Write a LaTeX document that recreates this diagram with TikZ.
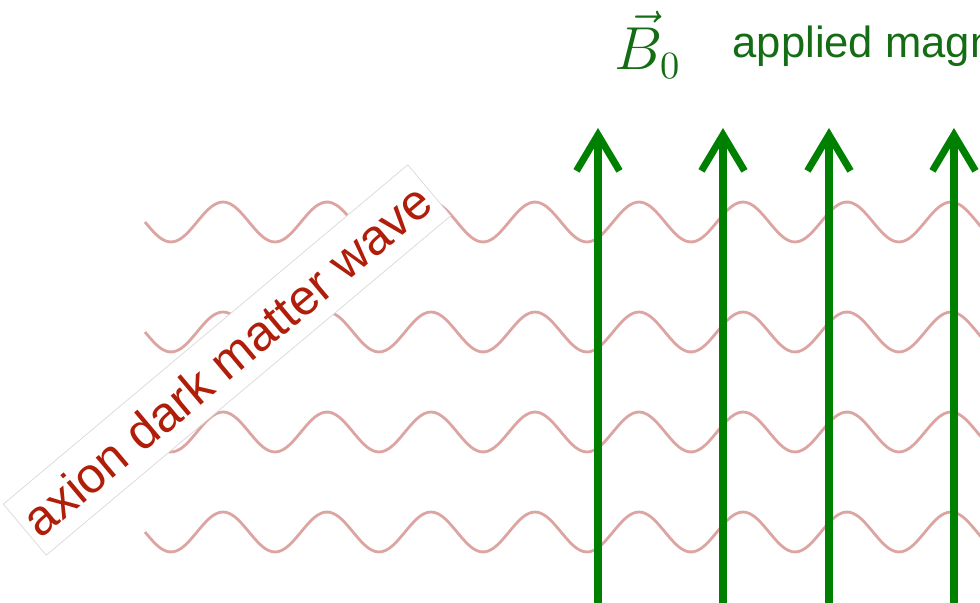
\documentclass[tikz,border=0pt]{standalone}
\usepackage{fontspec}
\newfontfamily\labelfont{Liberation Sans}
\usepackage{xcolor}
\usetikzlibrary{arrows.meta}
\definecolor{fieldGreen}{HTML}{008000}
\definecolor{labelGreen}{HTML}{146C14}
\definecolor{axionRed}{HTML}{B01E0A}
\definecolor{waveRed}{HTML}{DCA5A2}

\begin{document}
\begin{tikzpicture}[
  wave/.style={color=waveRed, line width=0.8pt},
  field/.style={color=fieldGreen, line width=2pt, -{Straight Barb[length=3.6mm,width=4.3mm]}}
]
  \useasboundingbox (0,0) rectangle (9.8,6.03);
  \clip (0,0) rectangle (9.8,6.03);

  % Axion waves
  \foreach \yc in {3.81,2.71,1.71,0.71}
    \draw[wave] plot[domain=1.45:9.9, samples=240, smooth] (\x, {\yc-0.2*sin(360*(\x-1.45)/1.04)});

  % Rotated label
  \node[rotate=40, fill=white, draw=black!15, line width=0.2pt, inner xsep=0.06cm, inner ysep=0.15cm,
        text=axionRed, font=\labelfont\fontsize{14.2}{16}\selectfont] (axlabel) at (2.27,2.43) {axion dark matter wave};

  % Field lines
  \foreach \fx [count=\i] in {5.98,7.23,8.29,9.54} {
    \coordinate (f\i-bot) at (\fx,-0.1);
    \coordinate (f\i-top) at (\fx,4.75);
    \draw[field] (f\i-bot) -- (f\i-top);
  }

  % Field label
  \node[color=labelGreen, font=\fontsize{16}{18}\selectfont] (bvec) at (6.48,5.58) {$\vec{B}_0$};
  \node[anchor=base west, inner sep=0pt, color=labelGreen, font=\labelfont\fontsize{12.4}{15}\selectfont] (bname) at (7.32,5.45) {applied magn};
\end{tikzpicture}
\end{document}
